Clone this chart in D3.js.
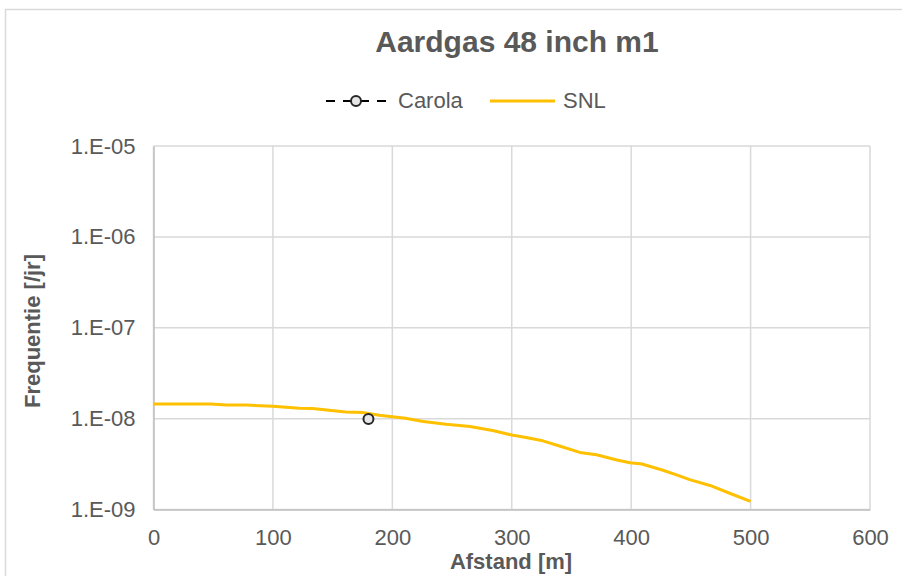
<!DOCTYPE html>
<html>
<head>
<meta charset="utf-8">
<script src="https://cdn.jsdelivr.net/npm/d3@7"></script>
<style>
html, body { margin: 0; padding: 0; background: #fff; }
svg text { font-family: "Liberation Sans", Arial, sans-serif; fill: #595959; }
</style>
</head>
<body>
<svg id="chart" width="902" height="576"></svg>
<script>
(function(){
// --- data ---
var snlAfstand = [0, 48, 61, 78, 100, 122, 133, 161, 175, 189, 211, 226, 245, 265, 284, 300, 312, 326, 340, 357, 371, 388, 399, 409, 426, 438, 449, 466, 483, 500];
var snlFreq = [1.45e-8, 1.45e-8, 1.41e-8, 1.41e-8, 1.37e-8, 1.3e-8, 1.29e-8, 1.18e-8, 1.17e-8, 1.09e-8, 1.01e-8, 9.3e-9, 8.65e-9, 8.2e-9, 7.4e-9, 6.6e-9, 6.2e-9, 5.7e-9, 5.0e-9, 4.25e-9, 4.0e-9, 3.5e-9, 3.27e-9, 3.17e-9, 2.72e-9, 2.4e-9, 2.13e-9, 1.84e-9, 1.5e-9, 1.23e-9];
var carolaAfstand = [180];
var carolaFreq = [9.9e-9];
var xTicks = [0, 100, 200, 300, 400, 500, 600];
var yTicks = [1e-9, 1e-8, 1e-7, 1e-6, 1e-5];

var svg = d3.select("#chart");
var plot = {left: 153.5, right: 870, top: 146, bottom: 509.5};

var x = d3.scaleLinear().domain([0, 600]).range([plot.left, plot.right]);
var y = d3.scaleLog().domain([1e-9, 1e-5]).range([plot.bottom, plot.top]);

function fmtExp(v){
	var e = Math.round(Math.log10(v));
	return "1.E" + (e < 0 ? "-" : "+") + (Math.abs(e) < 10 ? "0" : "") + Math.abs(e);
}

// outer chart border
svg.append("rect").attr("x", 5.5).attr("y", 9.5).attr("width", 1000).attr("height", 1000)
		.attr("fill", "none").attr("stroke", "#d9d9d9").attr("stroke-width", 1.5);

// grid
var grid = svg.append("g").attr("class", "grid");
grid.selectAll(".vg").data(xTicks).enter().append("line")
		.attr("x1", function(d){ return x(d); }).attr("x2", function(d){ return x(d); })
		.attr("y1", plot.top).attr("y2", plot.bottom)
		.attr("stroke", "#d9d9d9").attr("stroke-width", 1.5);
grid.selectAll(".hg").data(yTicks).enter().append("line")
		.attr("x1", plot.left).attr("x2", plot.right)
		.attr("y1", function(d){ return y(d); }).attr("y2", function(d){ return y(d); })
		.attr("stroke", "#d9d9d9").attr("stroke-width", 1.5);

// axes
var xAxis = d3.axisBottom(x).tickValues(xTicks).tickSize(0).tickPadding(20).tickFormat(d3.format("d"));
var yAxis = d3.axisLeft(y).tickValues(yTicks).tickSize(0).tickPadding(18).tickFormat(fmtExp);
var gx = svg.append("g").attr("transform", "translate(0," + plot.bottom + ")").call(xAxis);
var gy = svg.append("g").attr("transform", "translate(" + plot.left + ",0)").call(yAxis);
[gx, gy].forEach(function(g){
	g.select(".domain").attr("stroke", "#bfbfbf").attr("stroke-width", 1.5);
	g.selectAll("text").attr("font-size", 22).attr("fill", "#595959")
			.style("font-family", "'Liberation Sans', Arial, sans-serif");
});

// SNL line
var line = d3.line()
		.x(function(d){ return x(d[0]); })
		.y(function(d){ return y(d[1]); });
svg.append("path")
		.datum(d3.zip(snlAfstand, snlFreq))
		.attr("d", line)
		.attr("fill", "none").attr("stroke", "#ffc000").attr("stroke-width", 3)
		.attr("stroke-linejoin", "round");

// Carola points
svg.selectAll(".carola").data(d3.zip(carolaAfstand, carolaFreq)).enter().append("circle")
		.attr("class", "carola")
		.attr("cx", function(d){ return x(d[0]); })
		.attr("cy", function(d){ return y(d[1]); })
		.attr("r", 5)
		.attr("fill", "#e7e6e6").attr("stroke", "#262626").attr("stroke-width", 2);

// title
svg.append("text").attr("x", 517).attr("y", 52).attr("text-anchor", "middle")
		.attr("font-size", 30).attr("font-weight", "bold").text("Aardgas 48 inch m1");

// legend
var lg = svg.append("g");
lg.append("line").attr("x1", 326).attr("x2", 386).attr("y1", 101).attr("y2", 101)
		.attr("stroke", "#000").attr("stroke-width", 2).attr("stroke-dasharray", "9,8");
lg.append("circle").attr("cx", 356).attr("cy", 101).attr("r", 5)
		.attr("fill", "#e7e6e6").attr("stroke", "#262626").attr("stroke-width", 2);
lg.append("text").attr("x", 398).attr("y", 108).attr("font-size", 22).text("Carola");
lg.append("line").attr("x1", 490).attr("x2", 555).attr("y1", 101).attr("y2", 101)
		.attr("stroke", "#ffc000").attr("stroke-width", 3);
lg.append("text").attr("x", 563).attr("y", 108).attr("font-size", 22).text("SNL");

// axis titles
svg.append("text").attr("x", 511).attr("y", 569).attr("text-anchor", "middle")
		.attr("font-size", 22).attr("font-weight", "bold").text("Afstand [m]");
svg.append("text").attr("transform", "translate(40,331) rotate(-90)").attr("text-anchor", "middle")
		.attr("font-size", 22).attr("font-weight", "bold").text("Frequentie [/jr]");
})();
</script>
</body>
</html>
